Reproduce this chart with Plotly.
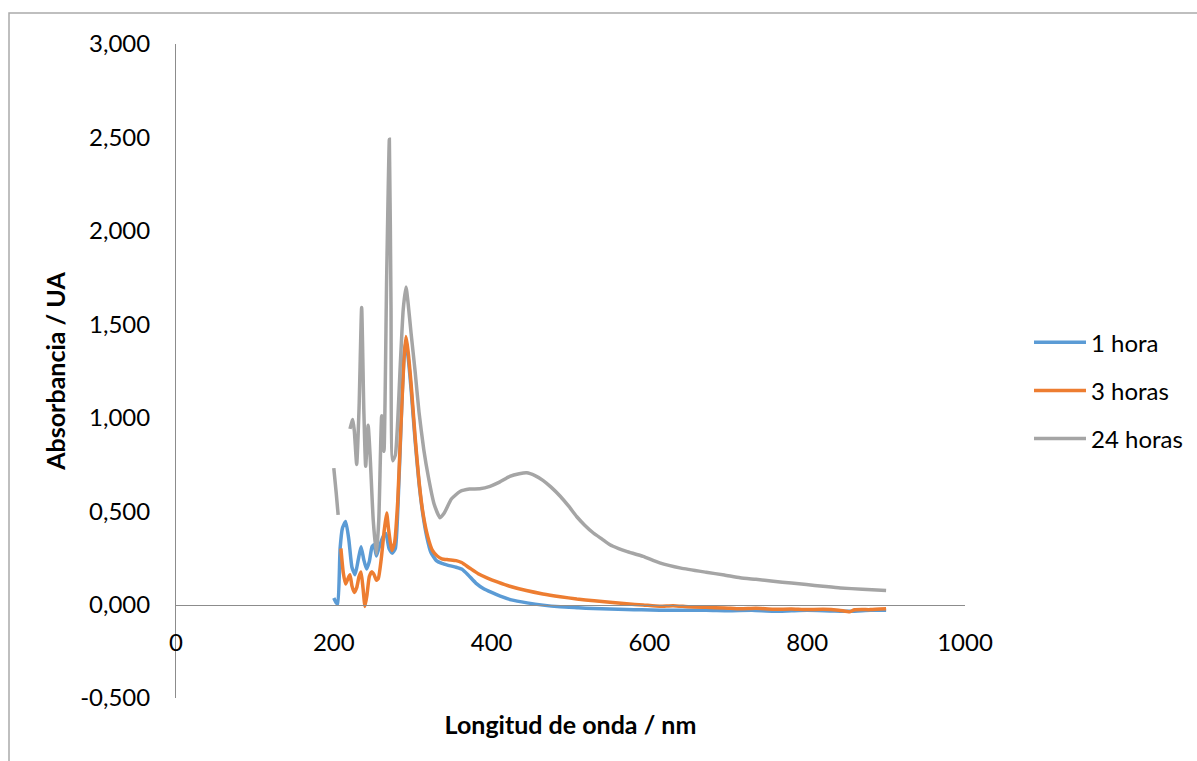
import plotly.graph_objects as go

# Absorbance spectra (wavelength in nm, absorbance in UA)
wl_1h = [200, 203, 205, 208, 211, 215, 219, 223, 227, 231, 234.5, 238, 241.5, 245, 248.5,
         251, 254, 257, 262, 266, 270, 274, 278, 282, 286, 289, 291, 294, 298, 303, 308,
         313, 318, 323, 330, 337, 345, 355, 362, 370, 380, 390, 400, 411, 425, 445, 465,
         487, 510, 529, 550, 571, 590, 613, 640, 672, 700, 730, 757, 780, 800, 830, 855,
         880, 900]
abs_1h = [0.035, 0.010, 0.005, 0.30, 0.41, 0.445, 0.35, 0.20, 0.16, 0.24, 0.31, 0.24, 0.19,
          0.23, 0.31, 0.32, 0.26, 0.30, 0.36, 0.38, 0.30, 0.275, 0.30, 0.60, 1.05, 1.33, 1.40,
          1.33, 1.15, 0.88, 0.65, 0.48, 0.36, 0.28, 0.235, 0.22, 0.21, 0.20, 0.19, 0.16,
          0.115, 0.085, 0.065, 0.045, 0.025, 0.009, -0.003, -0.012, -0.017, -0.021, -0.024,
          -0.027, -0.028, -0.030, -0.031, -0.030, -0.033, -0.031, -0.036, -0.033, -0.031,
          -0.034, -0.036, -0.031, -0.030]

wl_3h = [209, 212, 215, 218, 220.5, 223, 226, 229, 232, 234.5, 237, 239.5, 242, 245, 248,
         251, 254, 256.5, 260, 264, 267, 269.5, 273.5, 277, 281, 285, 289, 291.5, 294, 298,
         303, 308, 313, 319, 325, 331, 337, 345, 355, 362, 372, 383, 394, 408, 423, 444,
         465, 487, 508, 530, 550, 571, 592, 613, 630, 650, 672, 695, 715, 735, 757, 780,
         799, 820, 840, 854, 860, 880, 900]
abs_3h = [0.30, 0.17, 0.11, 0.14, 0.16, 0.10, 0.065, 0.09, 0.15, 0.175, 0.09, -0.01, 0.05,
          0.15, 0.175, 0.16, 0.13, 0.14, 0.24, 0.40, 0.49, 0.40, 0.29, 0.33, 0.55, 0.95,
          1.32, 1.435, 1.36, 1.18, 0.90, 0.66, 0.49, 0.365, 0.29, 0.26, 0.245, 0.24, 0.235,
          0.225, 0.196, 0.165, 0.143, 0.12, 0.098, 0.075, 0.057, 0.042, 0.030, 0.020, 0.012,
          0.004, -0.002, -0.009, -0.006, -0.012, -0.015, -0.018, -0.023, -0.020, -0.025,
          -0.024, -0.027, -0.025, -0.030, -0.039, -0.028, -0.027, -0.023]

wl_24h = [200, 203, 205.5, 213, 220.5, 224, 226, 229, 232, 235.3, 238, 240.4, 243.5, 246,
          250, 254, 257, 260.7, 263.6, 267, 270.4, 272.5, 274.6, 278, 281, 284, 288, 291.5,
          294, 298, 303, 308, 314, 320, 327, 334.6, 340, 349, 360, 372, 385, 398, 410, 423,
          435, 444.5, 455, 465, 475, 487, 498, 508, 518, 529, 540, 550, 561, 571, 592, 613,
          640, 672, 695, 715, 735, 757, 780, 799, 820, 842, 870, 900]
abs_24h = [0.73, 0.60, 0.48, None, 0.94, 0.99, 0.93, 0.75, 1.05, 1.59, 1.05, 0.74, 0.96,
           0.80, 0.45, 0.27, 0.45, 1.01, 0.82, 1.75, 2.49, 1.60, 0.77, 0.80, 0.98, 1.26,
           1.58, 1.70, 1.62, 1.45, 1.25, 1.03, 0.83, 0.68, 0.54, 0.465, 0.49, 0.565, 0.605,
           0.618, 0.62, 0.633, 0.655, 0.686, 0.700, 0.705, 0.69, 0.665, 0.63, 0.58, 0.525,
           0.47, 0.425, 0.383, 0.35, 0.32, 0.30, 0.285, 0.258, 0.223, 0.195, 0.173, 0.158,
           0.143, 0.135, 0.125, 0.115, 0.107, 0.098, 0.089, 0.082, 0.075]

series = [
    ("1 hora", wl_1h, abs_1h, "#5B9BD5"),
    ("3 horas", wl_3h, abs_3h, "#ED7D31"),
    ("24 horas", wl_24h, abs_24h, "#A5A5A5"),
]

y_ticks = [-0.5, 0, 0.5, 1.0, 1.5, 2.0, 2.5, 3.0]
y_ticktext = ["-0,500", "0,000", "0,500", "1,000", "1,500", "2,000", "2,500", "3,000"]
x_ticks = [0, 200, 400, 600, 800, 1000]

FONT = "Lato"
AXIS_GREY = "#8C8C8C"

fig = go.Figure()
for i, (name, wl, ab, color) in enumerate(series):
    fig.add_trace(go.Scatter(
        x=wl, y=ab, name=name, mode="lines",
        line=dict(color=color, width=3.5, shape="spline", smoothing=0.5),
        legendgroup=f"g{i}", connectgaps=False,
    ))

y_min, y_max = -0.5, 3.0
fig.update_layout(
    width=1197, height=761,
    margin=dict(l=176, r=232, t=44, b=63, autoexpand=False),
    paper_bgcolor="white", plot_bgcolor="white",
    font=dict(family=FONT, size=24, color="#000000"),
    showlegend=True,
    legend=dict(
        x=(1029 - 176) / 789, xanchor="left", y=0.47, yanchor="middle",
        font=dict(family=FONT, size=24, color="#000000"),
        tracegroupgap=14, itemwidth=52,
        bgcolor="rgba(0,0,0,0)",
    ),
    xaxis=dict(
        range=[0, 1000], tickvals=x_ticks,
        anchor="free", position=(0 - y_min) / (y_max - y_min),
        showline=True, linecolor=AXIS_GREY, linewidth=1,
        showgrid=False, zeroline=False, ticks="",
        ticklabelstandoff=17,
        tickfont=dict(family=FONT, size=24),
        title=dict(text="<b>Longitud de onda / nm</b>", standoff=61,
                   font=dict(family=FONT, size=25)),
        automargin=False,
    ),
    yaxis=dict(
        range=[y_min, y_max], tickvals=y_ticks, ticktext=y_ticktext,
        showline=True, linecolor=AXIS_GREY, linewidth=1,
        showgrid=False, zeroline=False, ticks="",
        ticklabelstandoff=20,
        tickfont=dict(family=FONT, size=24),
        title=dict(text="<b>Absorbancia / UA</b>", standoff=7,
                   font=dict(family=FONT, size=25)),
        automargin=False,
    ),
    shapes=[dict(
        type="rect", xref="paper", yref="paper",
        x0=(9 - 176) / 789, x1=1.4, y0=-0.3, y1=(698 - 13) / 654,
        line=dict(color="#ABABAB", width=1.5), fillcolor="rgba(0,0,0,0)",
        layer="below",
    )],
)

fig.write_html("out.html")
